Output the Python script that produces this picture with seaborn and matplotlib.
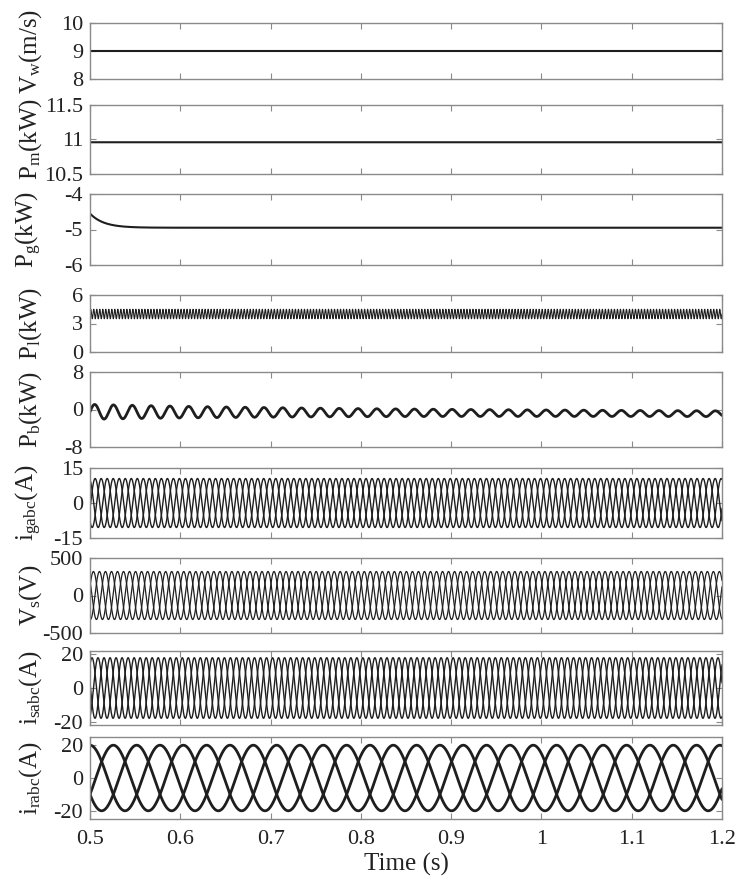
import numpy as np
import pandas as pd
import matplotlib
matplotlib.use("Agg")
import matplotlib.pyplot as plt
import seaborn as sns

# ---------------- data ----------------
t_start, t_end = 0.5, 1.2
x_ticks = [0.5, 0.6, 0.7, 0.8, 0.9, 1.0, 1.1, 1.2]
x_ticklabels = ["0.5", "0.6", "0.7", "0.8", "0.9", "1", "1.1", "1.2"]
x_label = "Time (s)"

y_labels = ["V$_w$(m/s)", "P$_m$(kW)", "P$_g$(kW)", "P$_l$(kW)", "P$_b$(kW)",
            "i$_{gabc}$(A)", "V$_s$(V)", "i$_{sabc}$(A)", "i$_{rabc}$(A)"]
y_limits = [(8, 10), (10.5, 11.5), (-6, -4), (0, 6), (-8, 8),
            (-15, 15), (-500, 500), (-22, 22), (-25, 25)]
y_ticks = [[8, 9, 10], [10.5, 11, 11.5], [-6, -5, -4], [0, 3, 6], [-8, 0, 8],
           [-15, 0, 15], [-500, 0, 500], [-20, 0, 20], [-20, 0, 20]]
y_ticklabels = [["8", "9", "10"], ["10.5", "11", "11.5"], ["-6", "-5", "-4"],
                ["0", "3", "6"], ["-8", "0", "8"], ["-15", "0", "15"],
                ["-500", "0", "500"], ["-20", "0", "20"], ["-20", "0", "20"]]

wind_speed = 9.0                      # m/s
mech_power = 10.96                    # kW
grid_power = {"start": -4.55, "final": -4.95, "tau": 0.015}   # kW, s
load_power = {"low": 3.5, "high": 4.5, "freq": 300.0}          # kW, Hz
batt_power = {"mean_start": -0.5, "mean_end": -0.9,
              "amp_start": 1.6, "amp_end": 0.55, "freq": 48.0}  # kW, Hz
grid_current = {"amp": 10.5, "freq": 50.0, "phase": 0.3}       # A
stator_voltage = {"amp": 320.0, "freq": 50.0, "phase": 0.9}    # V
stator_current = {"amp": 18.0, "freq": 50.0, "phase": 1.4}     # A
rotor_current = {"amp": 20.0, "freq": 12.9, "phase": 0.0}      # A

# ---------------- build series ----------------
t = np.linspace(t_start, t_end, 20001)
tau = t - t_start

def three_phase(p):
    rows = []
    for k, name in enumerate(["a", "b", "c"]):
        y = p["amp"] * np.cos(2 * np.pi * p["freq"] * tau + p["phase"] - 2 * np.pi * k / 3)
        rows.append(pd.DataFrame({"t": t, "y": y, "phase": name}))
    return pd.concat(rows, ignore_index=True)

single = []
single.append(np.full_like(t, wind_speed))
single.append(np.full_like(t, mech_power))
single.append(grid_power["final"] + (grid_power["start"] - grid_power["final"]) * np.exp(-tau / grid_power["tau"]))
mid = 0.5 * (load_power["low"] + load_power["high"])
half = 0.5 * (load_power["high"] - load_power["low"])
single.append(mid + half * np.sin(2 * np.pi * load_power["freq"] * tau))
frac = tau / (t_end - t_start)
amp = batt_power["amp_end"] + (batt_power["amp_start"] - batt_power["amp_end"]) * np.exp(-tau / 0.25)
mean = batt_power["mean_start"] + (batt_power["mean_end"] - batt_power["mean_start"]) * frac
single.append(mean + amp * np.sin(2 * np.pi * batt_power["freq"] * tau))

multi = [three_phase(grid_current), three_phase(stator_voltage),
         three_phase(stator_current), three_phase(rotor_current)]

# ---------------- styling ----------------
sns.set_theme(style="white")
plt.rcParams["font.family"] = ["Liberation Serif", "DejaVu Serif"]
plt.rcParams["mathtext.fontset"] = "custom"
plt.rcParams["mathtext.rm"] = "Liberation Serif"
plt.rcParams["mathtext.it"] = "Liberation Serif:italic"
plt.rcParams["mathtext.default"] = "regular"

W, H = 736, 881
fig = plt.figure(figsize=(W / 100, H / 100), dpi=100)
fig.patch.set_facecolor("white")

left_px, right_px = 90, 722
panel_px = [(23, 79), (105, 174), (194, 265), (295, 352), (372, 447),
            (468, 538), (558, 633), (651, 725), (737, 819)]
line_widths = [1.5, 1.5, 1.5, 0.8, 2.0, 1.0, 0.9, 1.0, 2.0]
spine_col = "#8a8a8a"
line_col = "#1e1e1e"
tick_fs = 16
label_fs = 18

for i, (top, bot) in enumerate(panel_px):
    ax = fig.add_axes([left_px / W, 1 - bot / H, (right_px - left_px) / W, (bot - top) / H])
    if i < 5:
        sns.lineplot(x=t, y=single[i], ax=ax, color=line_col, linewidth=line_widths[i],
                     estimator=None, errorbar=None)
    else:
        df = multi[i - 5]
        sns.lineplot(data=df, x="t", y="y", hue="phase", ax=ax,
                     palette=[line_col] * 3, linewidth=line_widths[i],
                     estimator=None, errorbar=None, legend=False, sort=False)
    ax.set_xlim(t_start, t_end)
    ax.set_ylim(*y_limits[i])
    ax.set_xticks(x_ticks)
    ax.set_yticks(y_ticks[i])
    ax.set_yticklabels(y_ticklabels[i])
    if i == len(panel_px) - 1:
        ax.set_xticklabels(x_ticklabels)
        ax.set_xlabel(x_label, fontsize=label_fs, color="#222222", labelpad=3)
        ax.tick_params(axis="x", pad=8)
    else:
        ax.set_xticklabels([])
        ax.set_xlabel("")
    ax.set_ylabel(y_labels[i], fontsize=label_fs, color="#222222")
    ax.yaxis.set_label_coords(-0.072, 0.5)
    ax.tick_params(axis="both", which="both", direction="in", length=4, width=0.8,
                   color=spine_col, labelsize=tick_fs, labelcolor="#222222",
                   top=True, right=True, bottom=True, left=True)
    ax.tick_params(axis="y", pad=5)
    for s in ax.spines.values():
        s.set_visible(True)
        s.set_color(spine_col)
        s.set_linewidth(1.0)
    ax.set_facecolor("white")
    ax.grid(False)

fig.savefig("out.png", dpi=100, facecolor="white")
